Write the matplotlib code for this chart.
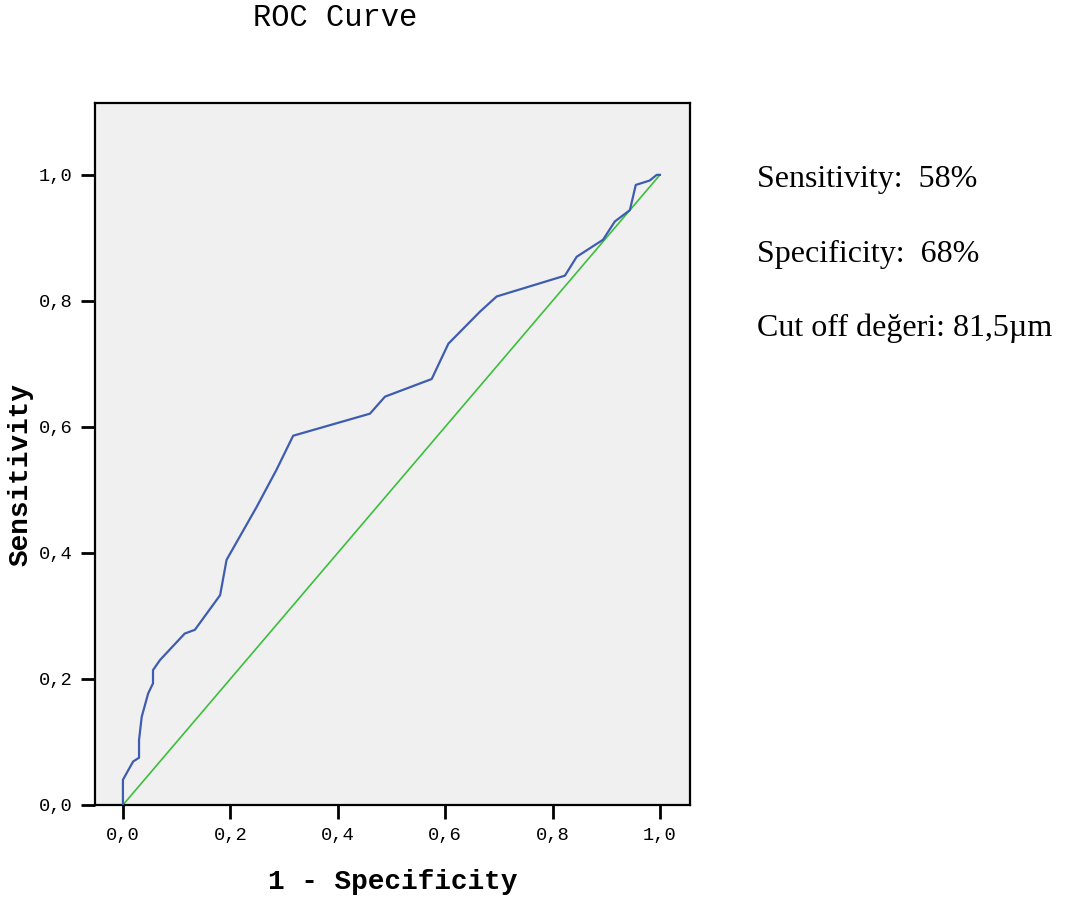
import numpy as np
import matplotlib
matplotlib.use("Agg")
from matplotlib import pyplot as plt
from matplotlib.ticker import FuncFormatter

# ROC curve points (1 - specificity, sensitivity)
fpr = [0, 0, 0.019, 0.030, 0.030, 0.035, 0.047, 0.056, 0.056, 0.069, 0.115, 0.134,
       0.181, 0.193, 0.221, 0.249, 0.286, 0.317, 0.460, 0.488, 0.575, 0.606, 0.665,
       0.696, 0.823, 0.845, 0.894, 0.916, 0.944, 0.955, 0.981, 0.994, 1.0]
tpr = [0, 0.040, 0.069, 0.075, 0.103, 0.140, 0.177, 0.193, 0.214, 0.230, 0.272, 0.278,
       0.333, 0.389, 0.431, 0.473, 0.532, 0.586, 0.621, 0.648, 0.676, 0.732, 0.783,
       0.807, 0.840, 0.870, 0.897, 0.926, 0.944, 0.984, 0.991, 1.0, 1.0]
ref_line = [0, 1]
ticks = [0, 0.2, 0.4, 0.6, 0.8, 1.0]
notes = ["Sensitivity:  58%", "Specificity:  68%", "Cut off değeri: 81,5µm"]

mono = "Liberation Mono"

fig = plt.figure(figsize=(10.65, 9.06), dpi=100)
ax = fig.add_axes([0.0892, 0.1115, 0.5587, 0.7748])
ax.set_facecolor("#f0f0f0")

ax.plot(ref_line, ref_line, color="#3cbf3c", linewidth=1.2, zorder=2)
ax.plot(fpr, tpr, color="#3f5db0", linewidth=1.6, zorder=3)

ax.set_xlim(-0.052, 1.056)
ax.set_ylim(0, 1.114)
ax.set_xticks(ticks)
ax.set_yticks(ticks)
fmt = FuncFormatter(lambda v, p: ("%.1f" % v).replace(".", ","))
ax.xaxis.set_major_formatter(fmt)
ax.yaxis.set_major_formatter(fmt)
ax.tick_params(direction="out", length=10, width=2, color="black", pad=6,
               labelsize=13.5)
for lab in ax.get_xticklabels() + ax.get_yticklabels():
    lab.set_fontfamily(mono)
for sp in ax.spines.values():
    sp.set_linewidth(1.6)
    sp.set_color("black")

ax.set_xlabel("1 - Specificity", fontfamily=mono, fontsize=20, fontweight="bold",
              labelpad=18)
ax.set_ylabel("Sensitivity", fontfamily=mono, fontsize=20, fontweight="bold",
              labelpad=4)
ax.yaxis.label.set_y(0.47)

fig.text(335 / 1065, 1 - 18 / 906, "ROC Curve", fontfamily=mono, fontsize=22,
         ha="center", va="center")

for i, t in enumerate(notes):
    fig.text(757 / 1065, 1 - (180 + 74 * i) / 906, t, fontfamily="Liberation Serif",
             fontsize=23, ha="left", va="center")

plt.savefig("out.png", dpi=100)
